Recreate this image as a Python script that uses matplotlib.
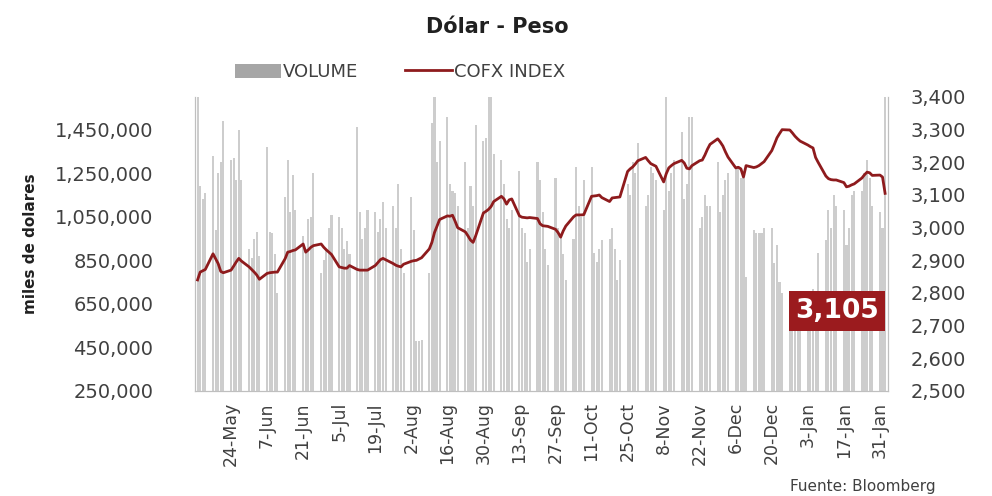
import matplotlib
matplotlib.use('Agg')
import matplotlib.pyplot as plt
import numpy as np
import pandas as pd
from matplotlib.patches import Patch
from matplotlib.lines import Line2D

# ---------------- data ----------------
dates = pd.bdate_range('2021-05-11', '2022-02-02')

# Volume (miles de dolares), in thousands, one value per business day
volume_k = [
    1600, 1190, 1130, 1160,
    1330, 990, 1250, 1300, 1490,
    1310, 1320, 1220, 1450, 1220,
    900, 860, 950, 980, 870,
    1370, 980, 975, 880, 700,
    1140, 1310, 1070, 1240, 1080,
    960, 900, 1040, 1050, 1250,
    790, 850, 900, 1000, 1060,
    1050, 1000, 900, 940, 880,
    1460, 1070, 950, 1000, 1080,
    1070, 980, 1040, 1120, 1000,
    1100, 1000, 1200, 900, 790,
    1140, 990, 480, 480, 485,
    790, 1480, 1600, 1300, 1400,
    1510, 1200, 1170, 1160, 1100,
    1300, 1000, 1190, 1100, 1470,
    1400, 1410, 1600, 1600, 1340,
    1310, 1200, 1040, 1000, 1080,
    1260, 1000, 975, 843, 900,
    1300, 1220, 1070, 900, 830,
    1230, 1000, 960, 880, 760,
    950, 1280, 1100, 1050, 1220,
    1280, 885, 843, 900, 945,
    950, 1000, 900, 760, 850,
    1200, 1150, 1300, 1250, 1390,
    1100, 1150, 1280, 1250, 1220,
    1080, 1600, 1170, 1250, 1310,
    1440, 1130, 1200, 1510, 1510,
    1000, 1050, 1150, 1100, 1100,
    1300, 1070, 1150, 1220, 1250,
    1270, 1280, 1230, 1230, 775,
    990, 975, 975, 975, 1000,
    1000, 840, 920, 750, 700,
    600, 650, 620, 640, 560,
    650, 700, 720, 680, 885,
    945, 1080, 1000, 1150, 1100,
    1080, 920, 1000, 1150, 1170,
    1170, 1250, 1310, 1230, 1100,
    1070, 1000, 1600,
]

# COFX INDEX, one value per business day
cofx = [
    2840, 2864, 2868, 2872,
    2920, 2905, 2890, 2866, 2862,
    2870, 2882, 2895, 2906, 2898,
    2880, 2872, 2864, 2855, 2842,
    2860, 2862, 2863, 2864, 2864,
    2905, 2925, 2927, 2930, 2932,
    2950, 2925, 2932, 2940, 2945,
    2950, 2940, 2932, 2925, 2918,
    2880, 2878, 2876, 2876, 2884,
    2872, 2870, 2870, 2870, 2870,
    2884, 2893, 2902, 2906, 2902,
    2890, 2885, 2882, 2880, 2888,
    2897, 2899, 2900, 2904, 2908,
    2935, 2955, 2985, 3005, 3025,
    3036, 3035, 3038, 3020, 3000,
    2987, 2975, 2962, 2955, 2975,
    3045, 3050, 3056, 3065, 3080,
    3096, 3088, 3072, 3085, 3088,
    3036, 3032, 3031, 3030, 3031,
    3028, 3012, 3006, 3005, 3004,
    2995, 2985, 2971, 2990, 3005,
    3033, 3039, 3039, 3039, 3040,
    3096, 3097, 3098, 3100, 3092,
    3080, 3091, 3092, 3093, 3094,
    3172, 3180, 3186, 3195, 3205,
    3215, 3205, 3196, 3192, 3188,
    3140, 3165, 3183, 3190, 3196,
    3206, 3198, 3182, 3180, 3190,
    3205, 3207, 3222, 3240, 3255,
    3272, 3262, 3250, 3232, 3216,
    3183, 3185, 3180, 3155, 3190,
    3184, 3186, 3190, 3196, 3202,
    3236, 3255, 3275, 3288, 3300,
    3299, 3290, 3280, 3272, 3265,
    3253, 3248, 3244, 3215, 3200,
    3158, 3150, 3147, 3146, 3146,
    3138, 3125, 3127, 3131, 3134,
    3152, 3162, 3170, 3168, 3160,
    3161, 3155, 3105,
]

tick_dates = pd.date_range('2021-05-24', '2022-01-31', freq='14D')
tick_labels = ['24-May', '7-Jun', '21-Jun', '5-Jul', '19-Jul', '2-Aug', '16-Aug',
               '30-Aug', '13-Sep', '27-Sep', '11-Oct', '25-Oct', '8-Nov', '22-Nov',
               '6-Dec', '20-Dec', '3-Jan', '17-Jan', '31-Jan']

left_ticks = [250000, 450000, 650000, 850000, 1050000, 1250000, 1450000]
right_ticks = [2500, 2600, 2700, 2800, 2900, 3000, 3100, 3200, 3300, 3400]

assert len(dates) == len(volume_k) == len(cofx)
volume = np.array(volume_k) * 1000

# ---------------- plot ----------------
plt.rcParams['font.family'] = ['DejaVu Sans']
TXT = '#404040'
SP = '#bfbfbf'
RED = '#8e1b1d'

fig = plt.figure(figsize=(9.92, 4.96), dpi=100)
ax = fig.add_axes([195/992, 1-391/496, (888-195)/992, (391-97)/496])
ax2 = ax.twinx()

ax.bar(dates, volume, width=0.8, color='#cdcdcd', linewidth=0, zorder=1)
ax2.plot(dates, cofx, color=RED, lw=2.0, zorder=3)

ax.set_ylim(250000, 1600000)
ax2.set_ylim(2500, 3400)
ax.set_xlim(pd.Timestamp('2021-05-10'), pd.Timestamp('2022-02-03 03:00'))

ax.set_yticks(left_ticks)
ax.set_yticklabels([f'{v:,}' for v in left_ticks])
ax2.set_yticks(right_ticks)
ax2.set_yticklabels([f'{v:,}' for v in right_ticks])

ax.set_xticks(tick_dates)
ax.set_xticklabels(tick_labels, rotation=90)

for a in (ax, ax2):
    a.spines['top'].set_visible(False)
    for s in ('left', 'right', 'bottom'):
        a.spines[s].set_color(SP)
ax.tick_params(axis='y', length=0, labelsize=14, colors=TXT, pad=30)
ax2.tick_params(axis='y', length=0, labelsize=14, colors=TXT, pad=16)
ax.tick_params(axis='x', length=0, labelsize=12.5, colors=TXT, pad=8)

ax.set_ylabel('miles de dolares', fontsize=11, fontweight='bold', color='#202020', labelpad=12)

fig.text(497/992, 1-27/496, 'Dólar - Peso', ha='center', va='center',
         fontsize=15, fontweight='bold', color='#202020')

handles = [Patch(facecolor='#a6a6a6', edgecolor='none', label='VOLUME'),
           Line2D([0], [0], color=RED, lw=2, label='COFX INDEX')]
fig.legend(handles=handles, loc='center', bbox_to_anchor=(400/992, 1-72/496), ncol=2,
           frameon=False, fontsize=13, handlelength=2.6, handleheight=0.8,
           columnspacing=2.6, handletextpad=0.1, labelcolor=TXT)

fig.text(837/992, 1-311/496, '3,105', ha='center', va='center', fontsize=19,
         fontweight='bold', color='white',
         bbox=dict(boxstyle='square,pad=0.25', facecolor='#9b1b1e', edgecolor='none'))

fig.text(790/992, 2/496, 'Fuente: Bloomberg', ha='left', va='bottom', fontsize=11, color=TXT)

fig.savefig('out.png', dpi=100)
